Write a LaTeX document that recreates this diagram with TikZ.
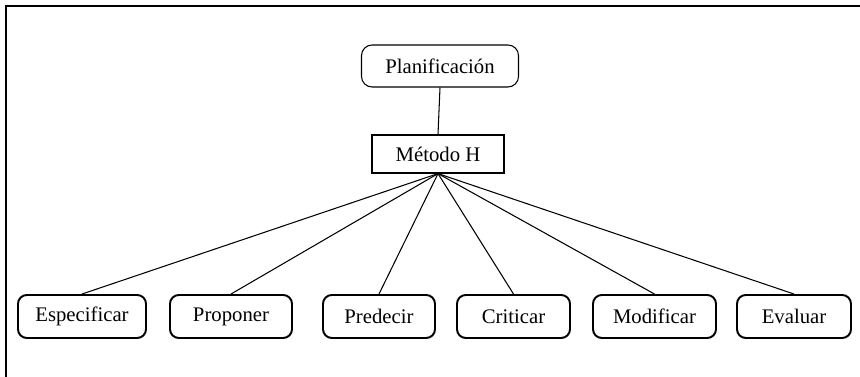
\documentclass[tikz,border=0pt]{standalone}
\usepackage{fontspec}
\setmainfont{Liberation Serif}
\usepackage{tikz}
\usetikzlibrary{positioning}

\begin{document}
\begin{tikzpicture}[transform shape,scale=1,
		caja/.style={draw,rounded corners=5pt,line width=1.1pt,minimum height=0.86cm,inner sep=0pt,font=\fontsize{11.8}{14}\selectfont},
		raiz/.style={draw,rounded corners=6pt,line width=0.6pt,minimum width=3.14cm,minimum height=0.84cm,inner sep=0pt,font=\fontsize{11.8}{14}\selectfont},
		metodo/.style={draw,line width=0.7pt,minimum width=2.64cm,minimum height=0.76cm,inner sep=0pt,font=\fontsize{11.8}{14}\selectfont}]
		\useasboundingbox (0,0) rectangle (17.2,7.54);
		\draw[line width=1.1pt] (0.12,0) -- (0.12,7.42) -- (17.2,7.42);
		\node[raiz] (plan) at (8.8,6.22) {Planificación};
		\node[metodo] (met) at (8.76,4.46) {Método H};
		\node[caja,minimum width=2.56cm] (esp) at (1.64,1.21) {Especificar};
		\node[caja,minimum width=2.44cm] (pro) at (4.62,1.21) {Proponer};
		\node[caja,minimum width=2.24cm] (pre) at (7.58,1.21) {Predecir};
		\node[caja,minimum width=2.26cm] (cri) at (10.27,1.21) {Criticar};
		\node[caja,minimum width=2.46cm] (mod) at (13.09,1.21) {Modificar};
		\node[caja,minimum width=2.28cm] (eva) at (15.88,1.21) {Evaluar};
		\draw[line width=0.6pt] (plan.south) -- (met.north);
		\draw[line width=0.6pt] (met.south) -- (esp.north);
		\draw[line width=0.6pt] (met.south) -- (pro.north);
		\draw[line width=0.6pt] (met.south) -- (pre.north);
		\draw[line width=0.6pt] (met.south) -- (cri.north);
		\draw[line width=0.6pt] (met.south) -- (mod.north);
		\draw[line width=0.6pt] (met.south) -- (eva.north);
	\end{tikzpicture}
\end{document}
